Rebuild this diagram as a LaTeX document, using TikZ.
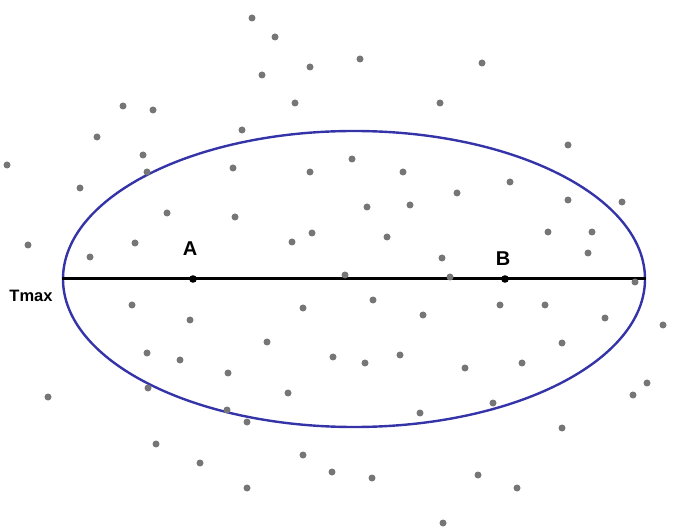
\documentclass[tikz,border=0pt]{standalone}
\usepackage{fontspec}
\setsansfont{Liberation Sans}
\usepackage{tikz}
\usetikzlibrary{shapes.geometric}
\definecolor{ellblue}{RGB}{52,52,168}
\definecolor{dotgrey}{RGB}{118,118,118}

\begin{document}
\begin{tikzpicture}[x=1pt, y=-1pt, >=latex,
        pt/.style={circle, fill=dotgrey, inner sep=0pt, minimum size=7pt},
        lbl/.style={font=\sffamily\bfseries\fontsize{20}{22}\selectfont, inner sep=0pt}]
        \useasboundingbox (0,0) rectangle (675,529);

        % Ellisse
        \node[ellipse, draw=ellblue, line width=2.4pt, inner sep=0pt,
              minimum width=582pt, minimum height=296pt] (E) at (354,279) {};

        % Asse maggiore
        \draw[line width=3pt] (E.west) -- (E.east);

        % Punti A e B sull'asse
        \coordinate (A) at (193,279);
        \coordinate (B) at (505,279);
        \fill (A) circle (3.8pt);
        \fill (B) circle (3.8pt);
        \node[lbl] (lA) at (190,249) {A};
        \node[lbl] (lB) at (503,259) {B};

        % Etichetta a sinistra
        \node[lbl, font=\sffamily\bfseries\fontsize{16.5}{18}\selectfont] (tm) at (31,296) {Tmax};

        % Nuvola di punti
        \foreach \px/\py in {252/18, 275/37, 262/75, 310/67, 360/59, 482/63,
                123/106, 153/110, 295/103, 440/103, 97/137, 242/130, 7/165,
                143/155, 233/168, 310/172, 147/172, 568/145, 352/159, 403/172,
                510/182, 80/188, 167/213, 235/217, 457/193, 367/207, 410/205,
                568/200, 622/202, 28/245, 135/243, 90/257, 292/242, 312/233,
                387/237, 548/232, 592/232, 588/253, 442/258, 345/275, 450/277,
                635/282, 132/305, 190/320, 303/308, 373/300, 500/305, 545/305,
                423/315, 605/318, 663/325, 267/342, 562/343, 147/353, 180/360,
                228/373, 333/357, 365/363, 400/355, 465/368, 522/363, 48/397,
                148/388, 288/393, 647/383, 633/395, 227/410, 247/422, 420/413,
                493/403, 562/428, 156/444, 200/463, 303/455, 332/472, 372/478,
                478/475, 517/488, 247/488, 443/523}
            \node[pt] at (\px,\py) {};

    \end{tikzpicture}
\end{document}
